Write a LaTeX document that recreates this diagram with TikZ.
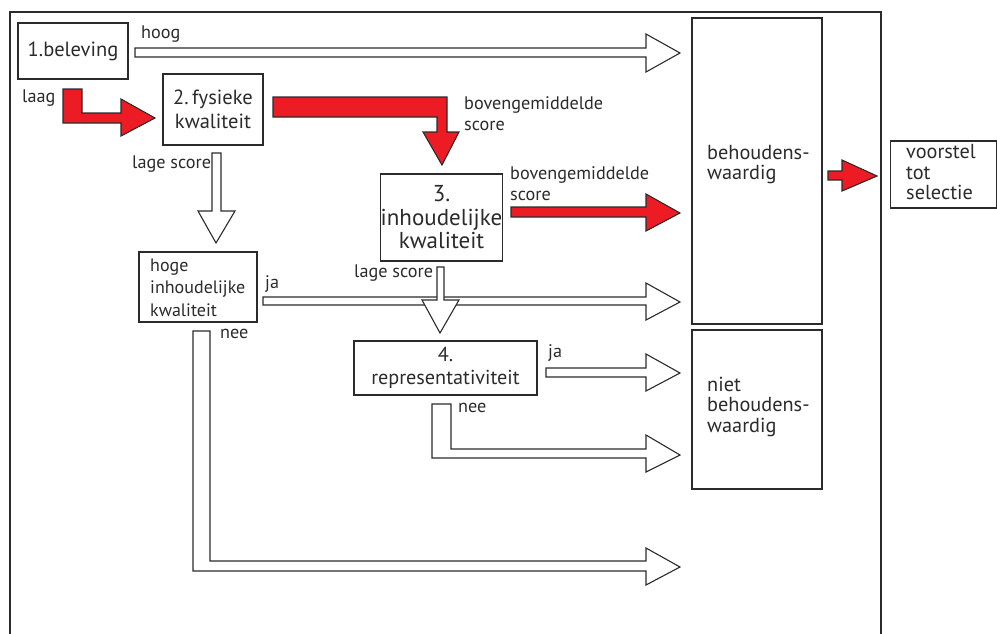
\documentclass[tikz,border=0pt]{standalone}
\usepackage{fontspec}
\setmainfont{PT Sans}
\definecolor{flred}{HTML}{ED1C24}
\definecolor{ink}{HTML}{2B2B2B}
\begin{document}
\begin{tikzpicture}[x=1pt,y=-1pt,
  box/.style={draw=ink,line width=1.1pt,fill=white,inner sep=0pt},
  btxt/.style={font=\fontsize{20.5}{23.5}\selectfont,text=ink},
  rtxt/.style={font=\fontsize{20.3}{20.5}\selectfont,text=ink,anchor=west,inner sep=0pt,align=left},
  lbl/.style={font=\fontsize{18.2}{21}\selectfont,text=ink,anchor=west,inner sep=0pt,align=left},
  warrow/.style={draw=ink,line width=1.1pt,fill=white,line join=miter},
  rarrow/.style={draw=ink,line width=1.1pt,fill=flred,line join=miter}]
\useasboundingbox (0,0) rectangle (997,633);
\begin{scope}
\clip (0,0) rectangle (997,633);
\draw[ink,line width=1.1pt] (10,645) -- (10,12) -- (881,12) -- (881,645);
\end{scope}
% boxes
\node[box,minimum width=110pt,minimum height=56pt,btxt] (b1) at (73,51) {1.beleving};
\node[box,minimum width=100pt,minimum height=71pt,btxt,align=center] (b2) at (213,109.5) {2.\,fysieke\\kwaliteit};
\node[box,minimum width=119pt,minimum height=87pt,font=\fontsize{23}{23.5}\selectfont,text=ink,align=center] (b3) at (441.5,217.5) {3.\\inhoudelijke\\kwaliteit};
\node[box,minimum width=118pt,minimum height=70pt] (bh) at (198,287) {};
\node[rtxt,font=\fontsize{18}{22.5}\selectfont] (th) at (150,287.5) {hoge\\inhoudelijke\\kwaliteit};
\node[box,minimum width=183pt,minimum height=54pt,font=\fontsize{20.2}{23.5}\selectfont,text=ink,align=center] (b4) at (445.5,368) {4.\\representativiteit};
\node[box,minimum width=130pt,minimum height=306pt] (bw) at (757,171) {};
\node[rtxt,font=\fontsize{20.3}{20}\selectfont] (tbw) at (707,165) {behoudens-\\waardig};
\node[box,minimum width=130pt,minimum height=159pt] (nbw) at (757,409.5) {};
\node[rtxt] (tnbw) at (707,406.5) {niet\\behoudens-\\waardig};
\node[box,minimum width=106pt,minimum height=67pt] (vs) at (943.5,174.5) {};
\node[rtxt] (tvs) at (906,172.5) {voorstel\\tot\\selectie};
% white block arrows
\draw[warrow] (135,48) -- (646,48) -- (646,34) -- (680,53) -- (646,72) -- (646,57) -- (135,57) -- cycle;
\draw[warrow] (263,297) -- (646,297) -- (646,283) -- (680,302) -- (646,320) -- (646,305) -- (263,305) -- cycle;
\draw[warrow] (546,368) -- (646,368) -- (646,354) -- (680,373) -- (646,391) -- (646,377) -- (546,377) -- cycle;
\draw[warrow] (432,404) -- (451,404) -- (451,449) -- (646,449) -- (646,435) -- (680,455) -- (646,472) -- (646,458) -- (432,458) -- cycle;
\draw[warrow] (193,331) -- (210,331) -- (210,561) -- (646,561) -- (646,548) -- (680,567) -- (646,585) -- (646,571) -- (193,571) -- cycle;
\draw[warrow] (212,153) -- (221,153) -- (221,211) -- (235,211) -- (216,243) -- (198,211) -- (212,211) -- cycle;
\draw[warrow] (437,267) -- (444,267) -- (444,300) -- (459,300) -- (440,333) -- (422,300) -- (437,300) -- cycle;
% red block arrows
\draw[rarrow] (63,89) -- (82,89) -- (82,113) -- (121,113) -- (121,99) -- (155,118) -- (121,136) -- (121,123) -- (63,123) -- cycle;
\draw[rarrow] (273,97) -- (447,97) -- (447,132) -- (459,132) -- (442,165) -- (423,132) -- (437,132) -- (437,117) -- (273,117) -- cycle;
\draw[rarrow] (511,207) -- (646,207) -- (646,194) -- (680,213) -- (646,231) -- (646,217) -- (511,217) -- cycle;
\draw[rarrow] (828,171) -- (842,171) -- (842,160) -- (877,176) -- (842,191) -- (842,180) -- (828,180) -- cycle;
% labels
\node[lbl] (lhoog) at (141,34) {hoog};
\node[lbl] (llaag) at (22,98) {laag};
\node[lbl] (lls2) at (132,164) {lage score};
\node[lbl] (lbg1) at (464,113.5) {bovengemiddelde\\score};
\node[lbl] (lbg2) at (510,183.5) {bovengemiddelde\\score};
\node[lbl] (lls3) at (354,273) {lage score};
\node[lbl] (lja1) at (265,284) {ja};
\node[lbl] (lnee1) at (220,334) {nee};
\node[lbl] (lja2) at (548,353) {ja};
\node[lbl] (lnee2) at (458,408) {nee};
\end{tikzpicture}
\end{document}
